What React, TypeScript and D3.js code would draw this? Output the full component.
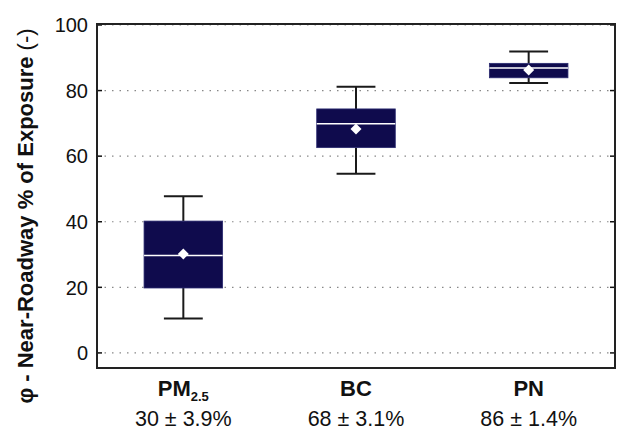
import React from "react";
import * as d3 from "d3";

const categories = ["PM", "BC", "PN"];
const subscripts = ["2.5", "", ""];
const summaries = ["30 ± 3.9%", "68 ± 3.1%", "86 ± 1.4%"];
const whiskerLow = [10.5, 54.6, 82.3];
const q1 = [19.8, 62.6, 83.9];
const medians = [29.7, 69.9, 86.9];
const q3 = [40.2, 74.4, 88.3];
const whiskerHigh = [47.8, 81.2, 91.9];
const means = [30.2, 68.3, 86.3];
const yTicks = [0, 20, 40, 60, 80, 100];

const W = 617, H = 432;
const M = { left: 97, top: 24, right: 615, bottom: 368 };
const FONT = "'Liberation Sans', Arial, Helvetica, sans-serif";
const BOX = "#0f0b4d";

export default function App() {
  const x = d3.scaleBand<string>().domain(categories).range([M.left, M.right]).padding(0);
  const y = d3.scaleLinear().domain([-4.6, 100.3]).range([M.bottom, M.top]);
  const bw = x.bandwidth();
  const boxW = bw * 0.455;
  const capW = bw * 0.225;
  const d = 5.5;

  return (
    <svg width={W} height={H} style={{ position: "absolute", left: 0, top: 0, background: "#fff" }} fontFamily={FONT}>
      {yTicks.map((t) => (
        <g key={t}>
          <line x1={M.left} x2={M.right} y1={y(t)} y2={y(t)} stroke="#888" strokeWidth={1.2} strokeDasharray="1.5 6" />
          <line x1={M.left} x2={M.left + 5} y1={y(t)} y2={y(t)} stroke="#111" strokeWidth={1.5} />
          <line x1={M.right - 5} x2={M.right} y1={y(t)} y2={y(t)} stroke="#111" strokeWidth={1.5} />
          <text x={88} y={y(t)} dy="0.36em" textAnchor="end" fontSize={20} fill="#111">{t}</text>
        </g>
      ))}
      {categories.map((c, i) => {
        const cx = (x(c) as number) + bw / 2;
        return (
          <g key={c}>
            <line x1={cx} x2={cx} y1={y(whiskerLow[i])} y2={y(q1[i])} stroke="#1a1a1a" strokeWidth={2} />
            <line x1={cx} x2={cx} y1={y(q3[i])} y2={y(whiskerHigh[i])} stroke="#1a1a1a" strokeWidth={2} />
            <line x1={cx - capW / 2} x2={cx + capW / 2} y1={y(whiskerLow[i])} y2={y(whiskerLow[i])} stroke="#1a1a1a" strokeWidth={2} />
            <line x1={cx - capW / 2} x2={cx + capW / 2} y1={y(whiskerHigh[i])} y2={y(whiskerHigh[i])} stroke="#1a1a1a" strokeWidth={2} />
            <rect x={cx - boxW / 2} y={y(q3[i])} width={boxW} height={y(q1[i]) - y(q3[i])} fill={BOX} stroke="#2a2a70" strokeWidth={0.8} />
            <line x1={cx - boxW / 2} x2={cx + boxW / 2} y1={y(medians[i])} y2={y(medians[i])} stroke="#fff" strokeWidth={1.6} />
            <path d={`M${cx},${y(means[i]) - d}L${cx + d},${y(means[i])}L${cx},${y(means[i]) + d}L${cx - d},${y(means[i])}Z`} fill="#fff" />
            <text x={cx} y={396} textAnchor="middle" fontSize={22} fontWeight="bold" fill="#111">
              {categories[i]}
              {subscripts[i] && <tspan fontSize={13} dy={5}>{subscripts[i]}</tspan>}
            </text>
            <text x={cx} y={426} textAnchor="middle" fontSize={21.5} fill="#111">{summaries[i]}</text>
          </g>
        );
      })}
      <rect x={M.left} y={M.top} width={M.right - M.left} height={M.bottom - M.top} fill="none" stroke="#222" strokeWidth={2} />
      <text transform={`translate(33,216) rotate(-90)`} textAnchor="middle" fontSize={22} fontWeight="bold" fill="#111">
        φ - Near-Roadway % of Exposure <tspan fontWeight="normal">(-)</tspan>
      </text>
    </svg>
  );
}
